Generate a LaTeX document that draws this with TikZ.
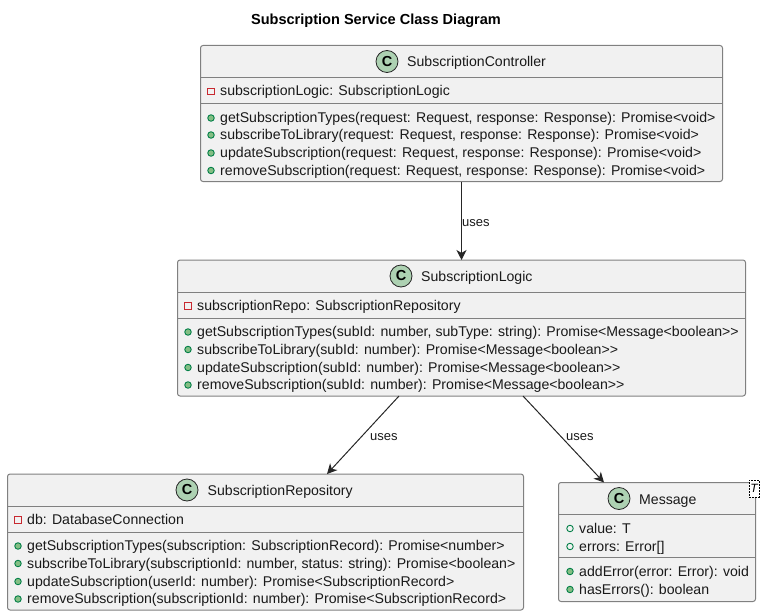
\documentclass[tikz,border=0pt]{standalone}
\usepackage{fontspec}
\setmainfont{Liberation Sans}
\usetikzlibrary{arrows.meta,calc}
\definecolor{boxfill}{HTML}{F1F1F1}
\definecolor{boxline}{HTML}{808080}
\definecolor{spotfill}{HTML}{ADD1B2}
\definecolor{pubgreen}{HTML}{038048}
\definecolor{pubfill}{HTML}{84BE84}
\definecolor{privred}{HTML}{C82930}
\tikzset{
  x=1pt,y=-1pt,
  cbox/.style={draw=boxline,fill=boxfill,line width=1pt,rounded corners=2.5pt,anchor=north west,inner sep=0pt,outer sep=0pt},
  sepline/.style={draw=boxline,line width=1pt},
  spot/.style={circle,draw=black!85,fill=spotfill,line width=0.8pt,minimum size=22pt,inner sep=0pt,font=\fontsize{14.5}{14}\selectfont\bfseries},
  cname/.style={anchor=base west,inner sep=0pt,font=\fontsize{14.1}{16}\selectfont,text=black!90},
  member/.style={anchor=base west,inner sep=0pt,font=\fontsize{14.12}{16}\selectfont,text=black!90},
  uselabel/.style={anchor=base west,inner sep=0pt,font=\fontsize{13}{15}\selectfont,text=black!90},
  rel/.style={draw=black!85,line width=1pt,-{Stealth[length=10pt,width=10pt,inset=3pt]}},
  privicon/.style={draw=privred,line width=0.9pt,fill=none,minimum size=6.5pt,inner sep=0pt},
  pubicon/.style={circle,draw=pubgreen,fill=pubfill,line width=0.9pt,minimum size=6.5pt,inner sep=0pt},
  fieldicon/.style={circle,draw=pubgreen,fill=none,line width=0.9pt,minimum size=6.5pt,inner sep=0pt},
}
\newcommand{\umlbox}[5]{% name, x, y, w, h
  \node[cbox,minimum width=#4pt,minimum height=#5pt] (#1) at (#2,#3) {};}
\newcommand{\mem}[5]{% name, icon style, x, baseline y, text
  \node[#2] (#1i) at (#3,#4-4.5) {};
  \node[member] (#1) at (#3+9,#4) {#5};}
\begin{document}
\begin{tikzpicture}
\useasboundingbox (0,0) rectangle (765,615);
\node[anchor=base,inner sep=0pt,font=\fontsize{14.55}{16}\selectfont\bfseries] (title) at (376,25) {Subscription Service Class Diagram};

% Controller
\umlbox{ctrl}{200.5}{45.5}{522}{136}
\draw[sepline] (200.5,77.5) -- (722.5,77.5);
\draw[sepline] (200.5,103.5) -- (722.5,103.5);
\node[spot] (ctrlspot) at (387,61.5) {C};
\node[cname] (ctrlname) at (407,67) {SubscriptionController};
\mem{c1}{privicon}{211}{96}{subscriptionLogic: SubscriptionLogic}
\mem{c2}{pubicon}{211}{122.5}{getSubscriptionTypes(request: Request, response: Response): Promise<void>}
\mem{c3}{pubicon}{211}{139.5}{subscribeToLibrary(request: Request, response: Response): Promise<void>}
\mem{c4}{pubicon}{211}{157.5}{updateSubscription(request: Request, response: Response): Promise<void>}
\mem{c5}{pubicon}{211}{175}{removeSubscription(request: Request, response: Response): Promise<void>}

% Logic
\umlbox{logic}{177.5}{260}{568}{136}
\draw[sepline] (177.5,292) -- (745.5,292);
\draw[sepline] (177.5,318) -- (745.5,318);
\node[spot] (logicspot) at (401,276) {C};
\node[cname] (logicname) at (421,281.5) {SubscriptionLogic};
\mem{l1}{privicon}{188}{310.5}{subscriptionRepo: SubscriptionRepository}
\mem{l2}{pubicon}{188}{336.5}{getSubscriptionTypes(subId: number, subType: string): Promise<Message<boolean>{}>}
\mem{l3}{pubicon}{188}{354}{subscribeToLibrary(subId: number): Promise<Message<boolean>{}>}
\mem{l4}{pubicon}{188}{372}{updateSubscription(subId: number): Promise<Message<boolean>{}>}
\mem{l5}{pubicon}{188}{389.5}{removeSubscription(subId: number): Promise<Message<boolean>{}>}

% Repository
\umlbox{repo}{7.5}{474}{516}{136}
\draw[sepline] (7.5,506) -- (523.5,506);
\draw[sepline] (7.5,532) -- (523.5,532);
\node[spot] (repospot) at (187,490) {C};
\node[cname] (reponame) at (207.5,495.5) {SubscriptionRepository};
\mem{r1}{privicon}{18}{524.5}{db: DatabaseConnection}
\mem{r2}{pubicon}{18}{550.5}{getSubscriptionTypes(subscription: SubscriptionRecord): Promise<number>}
\mem{r3}{pubicon}{18}{568}{subscribeToLibrary(subscriptionId: number, status: string): Promise<boolean>}
\mem{r4}{pubicon}{18}{586}{updateSubscription(userId: number): Promise<SubscriptionRecord>}
\mem{r5}{pubicon}{18}{603.5}{removeSubscription(subscriptionId: number): Promise<SubscriptionRecord>}

% Message
\umlbox{msg}{558.5}{482.5}{197}{119}
\draw[sepline] (558.5,514.5) -- (755.5,514.5);
\draw[sepline] (558.5,557.5) -- (755.5,557.5);
\node[spot] (msgspot) at (619,498.5) {C};
\node[cname] (msgname) at (639,504) {Message};
\mem{m1}{fieldicon}{570}{533}{value: T}
\mem{m2}{fieldicon}{570}{551}{errors: Error[]}
\mem{m3}{pubicon}{570}{576}{addError(error: Error): void}
\mem{m4}{pubicon}{570}{594}{hasErrors(): boolean}
\node[draw=black,dash pattern=on 1.5pt off 1.5pt,line width=0.7pt,fill=white,anchor=north west,minimum width=9.5pt,minimum height=17.5pt,inner sep=0pt,font=\fontsize{12}{12}\selectfont\itshape] (tpl) at (749,479.5) {T};

% Connectors
\coordinate (logicoutA) at ($(logic.south west)+(221.5,0)$);
\coordinate (repoin) at ($(repo.north west)+(319.5,0)$);
\coordinate (logicoutB) at ($(logic.south west)+(345.5,0)$);
\coordinate (msgin) at ($(msg.north west)+(45.5,0)$);
\draw[rel] (ctrl.south) -- (logic.north);
\draw[rel] (logicoutA) -- (repoin);
\draw[rel] (logicoutB) -- (msgin);
\node[uselabel] (u1) at (462,226) {uses};
\node[uselabel] (u2) at (370,440) {uses};
\node[uselabel] (u3) at (566,440) {uses};
\end{tikzpicture}
\end{document}
